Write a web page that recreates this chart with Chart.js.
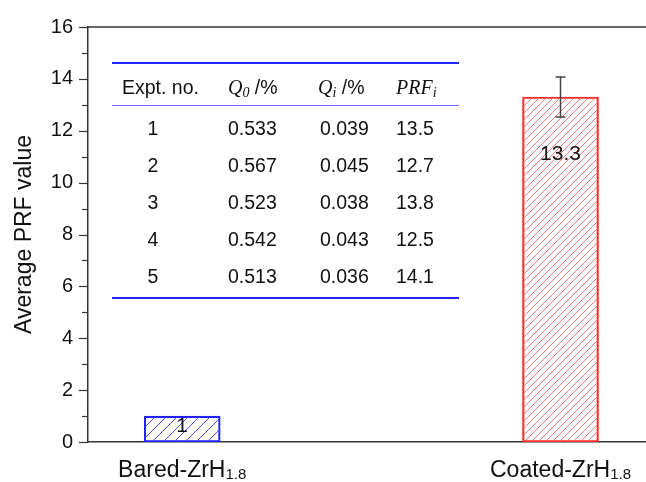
<!DOCTYPE html>
<html>
<head>
<meta charset="utf-8">
<script src="https://cdn.jsdelivr.net/npm/chart.js@4.4.1/dist/chart.umd.min.js"></script>
<style>
  html, body { margin: 0; padding: 0; background: #fff; }
  #wrap { width: 646px; height: 482px; position: relative; }
</style>
</head>
<body>
<div id="wrap"><canvas id="prf"></canvas></div>
<script>
// samples and their average PRF
const samples = ['Bared-ZrH', 'Coated-ZrH'];
const sampleSub = ['1.8', '1.8'];
const samplePos = [1, 2];
const avgPrf = [1, 13.3];
const prfErr = [0, 0.77];

// inset table
const exptNo = ['1', '2', '3', '4', '5'];
const q0 = ['0.533', '0.567', '0.523', '0.542', '0.513'];
const qi = ['0.039', '0.045', '0.038', '0.043', '0.036'];
const prfI = ['13.5', '12.7', '13.8', '12.5', '14.1'];

const SANS = '"Liberation Sans", Arial, sans-serif';
const SERIF = '"Liberation Serif", "Times New Roman", serif';
const AXIS = '#333';

// diagonal hatch fill
function hatch(color, step) {
    const c = document.createElement('canvas');
    c.width = step;
    c.height = step;
    const g = c.getContext('2d');
    g.strokeStyle = color;
    g.lineWidth = 1;
    g.beginPath();
    g.moveTo(0, step); g.lineTo(step, 0);
    g.moveTo(-1, 1); g.lineTo(1, -1);
    g.moveTo(step - 1, step + 1); g.lineTo(step + 1, step - 1);
    g.stroke();
    return g.createPattern(c, 'repeat');
}

const fills = [hatch('#4a4aff', 11), hatch('#ff7a7a', 7)];
const edges = ['#1f1fff', '#ff2a2a'];

// frame top line, minor/major y ticks
const framePlugin = {
    id: 'frame',
    afterDraw(chart) {
        const { ctx, chartArea: a, scales: { y } } = chart;
        ctx.save();
        ctx.strokeStyle = AXIS;
        ctx.lineWidth = 1.5;
        ctx.beginPath();
        ctx.moveTo(a.left, a.top);
        ctx.lineTo(a.right, a.top);
        ctx.stroke();
        ctx.lineWidth = 1.2;
        for (let v = y.min; v <= y.max; v++) {
            const py = Math.round(y.getPixelForValue(v)) + 0.5;
            const len = v % 2 === 0 ? 9 : 6;
            ctx.beginPath();
            ctx.moveTo(a.left - len, py);
            ctx.lineTo(a.left, py);
            ctx.stroke();
        }
        ctx.restore();
    }
};

// error bars, value labels and category names
const barExtras = {
    id: 'barExtras',
    afterDatasetsDraw(chart) {
        const { ctx, scales: { x, y } } = chart;
        const meta = chart.getDatasetMeta(0);
        ctx.save();
        meta.data.forEach((bar, i) => {
            const v = avgPrf[i];
            const e = prfErr[i];
            if (e > 0) {
                const hi = y.getPixelForValue(v + e);
                const lo = y.getPixelForValue(v - e);
                ctx.strokeStyle = '#444';
                ctx.lineWidth = 1.5;
                ctx.beginPath();
                ctx.moveTo(bar.x, hi); ctx.lineTo(bar.x, lo);
                ctx.moveTo(bar.x - 5, hi); ctx.lineTo(bar.x + 5, hi);
                ctx.moveTo(bar.x - 5, lo); ctx.lineTo(bar.x + 5, lo);
                ctx.stroke();
            }
            const h = bar.base - bar.y;
            const ly = bar.y + Math.min(h / 2 - 3, 57);
            ctx.fillStyle = '#111';
            ctx.font = '21px ' + SANS;
            ctx.textAlign = 'center';
            ctx.textBaseline = 'middle';
            ctx.fillText(String(v), bar.x, ly);
        });

        samples.forEach((name, i) => {
            const cx = x.getPixelForValue(samplePos[i]);
            ctx.font = '23px ' + SANS;
            const w1 = ctx.measureText(name).width;
            ctx.font = '15px ' + SANS;
            const w2 = ctx.measureText(sampleSub[i]).width;
            const left = cx - (w1 + w2) / 2;
            ctx.fillStyle = '#111';
            ctx.textAlign = 'left';
            ctx.textBaseline = 'alphabetic';
            ctx.font = '23px ' + SANS;
            ctx.fillText(name, left, 477);
            ctx.font = '15px ' + SANS;
            ctx.fillText(sampleSub[i], left + w1, 479);
        });
        ctx.restore();
    }
};

// inset table of individual experiments
const tablePlugin = {
    id: 'table',
    afterDraw(chart) {
        const ctx = chart.ctx;
        const x0 = 112, x1 = 459;
        const colNo = 153, colQ0 = 228, colQi = 320, colPrf = 396;
        ctx.save();
        ctx.strokeStyle = '#2424ff';
        ctx.lineWidth = 2;
        ctx.beginPath();
        ctx.moveTo(x0, 63); ctx.lineTo(x1, 63);
        ctx.moveTo(x0, 298); ctx.lineTo(x1, 298);
        ctx.stroke();
        ctx.strokeStyle = '#6a6aff';
        ctx.lineWidth = 1;
        ctx.beginPath();
        ctx.moveTo(x0, 105.5); ctx.lineTo(x1, 105.5);
        ctx.stroke();

        ctx.fillStyle = '#111';
        ctx.textBaseline = 'alphabetic';
        const hy = 94;
        ctx.textAlign = 'left';
        ctx.font = '19.5px ' + SANS;
        ctx.fillText('Expt. no.', 122, hy);

        // italic symbol with subscript, then unit
        function sym(x, main, sub, unit) {
            ctx.font = 'italic 20px ' + SERIF;
            ctx.fillText(main, x, hy);
            x += ctx.measureText(main).width;
            ctx.font = 'italic 14px ' + SERIF;
            ctx.fillText(sub, x, hy + 3);
            x += ctx.measureText(sub).width;
            if (unit) {
                ctx.font = '19.5px ' + SANS;
                ctx.fillText(unit, x, hy);
            }
        }
        sym(colQ0, 'Q', '0', ' /%');
        sym(colQi - 2, 'Q', 'i', ' /%');
        sym(colPrf, 'PRF', 'i', '');

        ctx.font = '19.5px ' + SANS;
        ctx.textBaseline = 'middle';
        exptNo.forEach((n, i) => {
            const ry = 130 + i * 37;
            ctx.textAlign = 'center';
            ctx.fillText(n, colNo, ry);
            ctx.textAlign = 'left';
            ctx.fillText(q0[i], colQ0, ry);
            ctx.fillText(qi[i], colQi, ry);
            ctx.fillText(prfI[i], colPrf, ry);
        });
        ctx.restore();
    }
};

const points = samplePos.map((p, i) => ({ x: p, y: avgPrf[i] }));

new Chart(document.getElementById('prf'), {
    type: 'bar',
    data: {
        datasets: [{
            data: points,
            backgroundColor: fills,
            borderColor: edges,
            borderWidth: 1.5,
            borderSkipped: false,
            barThickness: 76
        }]
    },
    options: {
        responsive: true,
        maintainAspectRatio: false,
        animation: false,
        layout: { padding: { top: 22, right: 0, left: 0, bottom: 0 } },
        plugins: {
            legend: { display: false },
            tooltip: { enabled: false }
        },
        scales: {
            x: {
                type: 'linear',
                min: 0.751,
                max: 2.226,
                offset: false,
                grid: { display: false },
                ticks: { display: false },
                border: { display: true, color: AXIS, width: 1.5 },
                afterFit: (s) => { s.height = 40; }
            },
            y: {
                min: 0,
                max: 16,
                grid: { display: false, drawTicks: false },
                border: { display: true, color: AXIS, width: 1.5 },
                ticks: {
                    stepSize: 1,
                    padding: 15,
                    color: '#111',
                    font: { family: SANS, size: 20 },
                    callback: (v) => (v % 2 === 0 ? v : '')
                },
                title: {
                    display: true,
                    text: 'Average PRF value',
                    color: '#111',
                    font: { family: SANS, size: 23 },
                    padding: { top: 11, bottom: 0 }
                },
                afterFit: (s) => { s.width = 88; }
            }
        }
    },
    plugins: [framePlugin, barExtras, tablePlugin]
});
</script>
</body>
</html>
